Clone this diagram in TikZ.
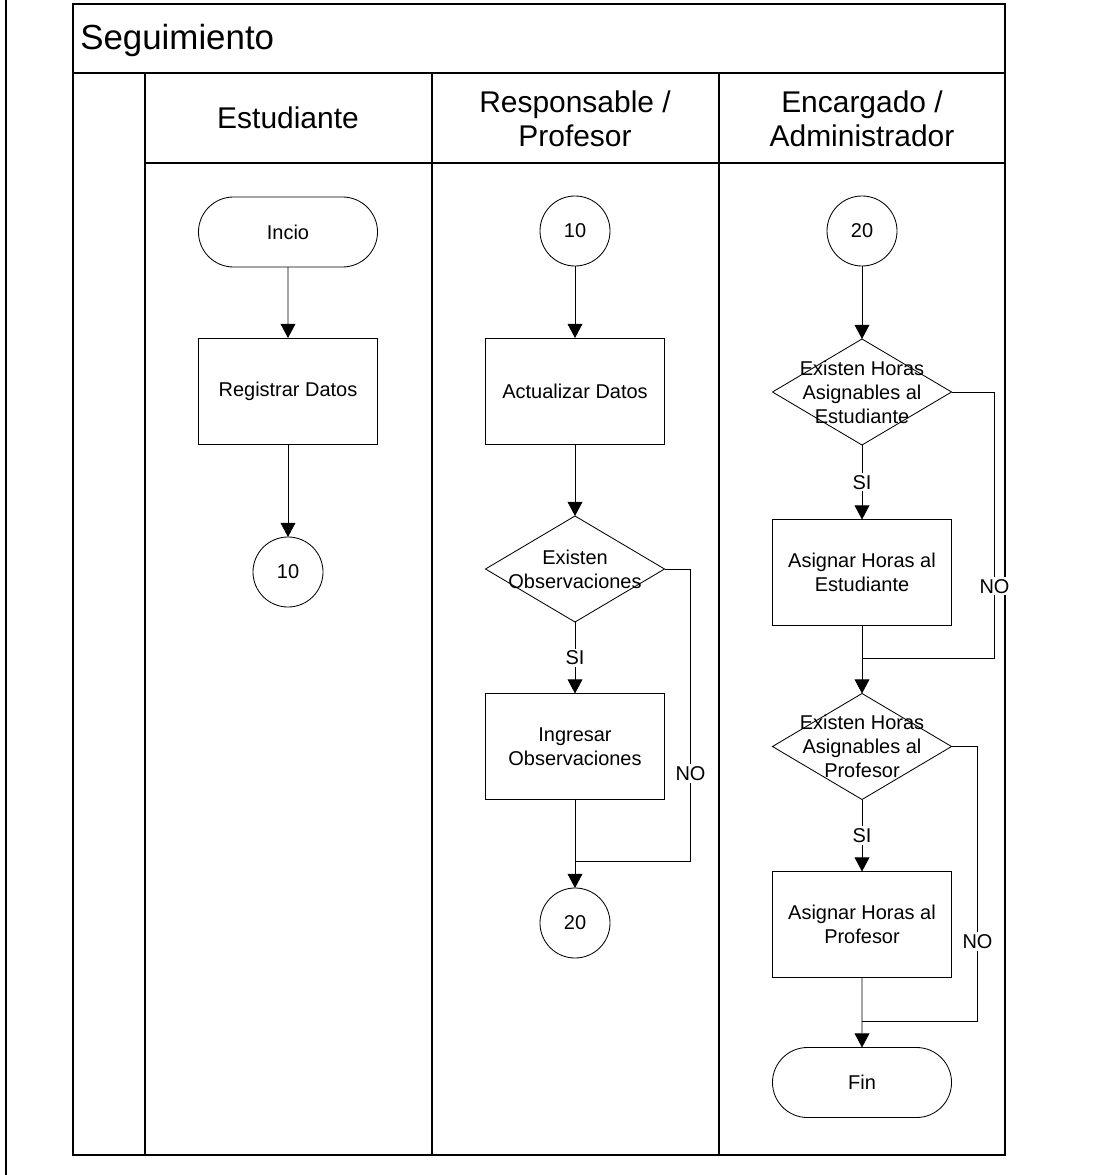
\documentclass[tikz,border=0pt]{standalone}
\usepackage{fontspec}
\setmainfont{Liberation Sans}
\usetikzlibrary{arrows.meta,positioning,shapes.geometric,shapes.misc}
\tikzset{
  procnode/.style = {shape=rectangle, draw, align=center, line width=0.6pt,
                     minimum width=4.475cm, minimum height=2.65cm,
                     inner sep=0pt, outer sep=0pt,
                     font=\fontsize{14.2}{17}\selectfont},
  termnode/.style = {procnode, shape=rounded rectangle, minimum height=1.75cm},
  connnode/.style = {procnode, shape=circle, minimum size=1.75cm},
  decnode/.style  = {procnode, shape=diamond},
  dectext/.style  = {align=center, font=\fontsize{14.2}{17}\selectfont},
  lbl/.style      = {fill=white, inner sep=1.5pt, font=\fontsize{14.2}{17}\selectfont},
  flow/.style     = {->, line width=0.6pt},
  line/.style     = {line width=0.6pt},
  lane/.style     = {line width=1.4pt},
  lanehead/.style = {align=center, font=\fontsize{21.3}{24}\selectfont}
}

\begin{document}
\begin{tikzpicture}[x=0.025cm, y=-0.025cm, >={Triangle[length=10pt,width=10.5pt]}]
\useasboundingbox (0,0) rectangle (1104,1175);

% swimlanes
\draw[lane] (6,0) -- (6,1175);
\draw[lane] (73,4) rectangle (1005,1155);
\draw[lane] (73,73) -- (1005,73);
\draw[lane] (145,163) -- (1005,163);
\foreach \x in {145,432,719}
  \draw[lane] (\x,73) -- (\x,1155);

\node[anchor=base west, inner sep=0pt, font=\fontsize{24.8}{28}\selectfont] (title) at (80,50) {Seguimiento};
\node[lanehead] (hest)  at (288,118) {Estudiante};
\node[lanehead] (hprof) at (575,119) {Responsable /\\Profesor};
\node[lanehead] (hadm)  at (862,119) {Encargado /\\Administrador};

% Estudiante
\node[termnode] (inicio) at (288,232) {Incio};
\node[procnode] (regdat) at (288,391) {Registrar Datos};
\node[connnode] (c10a)   at (288,572) {10};
\draw[flow] (inicio) -- (regdat);
\draw[flow] (regdat) -- (c10a);

% Responsable / Profesor
\node[connnode] (c10b)   at (575,231) {10};
\node[procnode] (actdat) at (575,391) {Actualizar Datos};
\node[decnode, label={[dectext]center:Existen\\Observaciones}] (dobs) at (575,569) {};
\node[procnode] (ingobs) at (575,746.5) {Ingresar\\Observaciones};
\node[connnode] (c20a)   at (575,923) {20};
\coordinate (jobs) at (575,861);
\draw[flow] (c10b) -- (actdat);
\draw[flow] (actdat) -- (dobs);
\draw[flow] (dobs) -- node[lbl] {SI} (ingobs);
\draw[flow] (ingobs) -- (c20a);
\draw[line] (dobs.east) -- ++(26,0) |- node[lbl, pos=0.35] {NO} (jobs);

% Encargado / Administrador
\node[connnode] (c20b)     at (862,231) {20};
\node[decnode, label={[dectext]center:Existen Horas\\Asignables al\\Estudiante}] (dest) at (862,392) {};
\node[procnode] (asigest)  at (862,572.5) {Asignar Horas al\\Estudiante};
\node[decnode, label={[dectext]center:Existen Horas\\Asignables al\\Profesor}] (dprof) at (862,746.5) {};
\node[procnode] (asigprof) at (862,924.5) {Asignar Horas al\\Profesor};
\node[termnode] (fin)      at (862,1082.5) {Fin};
\coordinate (jest) at (862,658);
\coordinate (jfin) at (862,1021);
\draw[flow] (c20b) -- (dest);
\draw[flow] (dest) -- node[lbl] {SI} (asigest);
\draw[flow] (asigest) -- (dprof);
\draw[line] (dest.east) -- ++(43,0) |- node[lbl, pos=0.365] {NO} (jest);
\draw[flow] (dprof) -- node[lbl] {SI} (asigprof);
\draw[flow] (asigprof) -- (fin);
\draw[line] (dprof.east) -- ++(26,0) |- node[lbl, pos=0.355] {NO} (jfin);
\end{tikzpicture}
\end{document}
